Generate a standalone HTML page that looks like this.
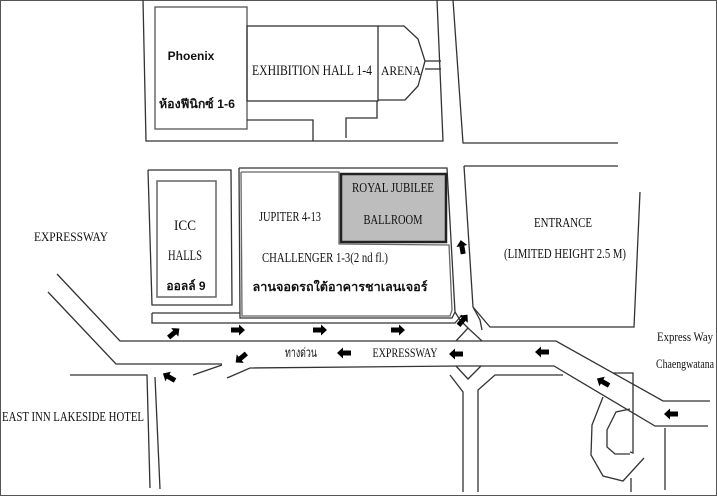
<!DOCTYPE html>
<html><head><meta charset="utf-8"><style>html,body{margin:0;padding:0;background:#fff}svg{display:block}</style></head><body>
<svg width="717" height="496" viewBox="0 0 717 496" xmlns="http://www.w3.org/2000/svg">
<defs>
<g id="ar"><path d="M-7,-2.5 L1,-2.5 L1,-5.5 L7,0 L1,5.5 L1,2.5 L-7,2.5 Z" fill="#000"/></g>
</defs>
<rect x="0.5" y="0.5" width="716" height="495" fill="#fff" stroke="#555"/>
<g fill="none" stroke="#333" stroke-width="1.3">
<polyline points="143,0 146,141 443,141 437,0"/>
<polyline points="453,0 463,143 618,143"/>
<rect x="155" y="7" width="92" height="122" stroke="#555"/>
<rect x="247" y="26" width="131" height="75"/>
<polyline points="378,26 404,26 418,39 425,61 418,86 405,100 378,100"/>
<polyline points="425,61 441,61"/><polyline points="425,69 441,69"/>
<polyline points="247,120 313,120 313,141"/>
<polyline points="346,138 346,118 377,118 377,101"/>
<polyline points="464,166 618,166"/>
<polyline points="640,192 634,327 490,327 473,307 464,166"/>
<polyline points="148,170 231,170 232,305 152,305 148,170"/>
<rect x="157" y="181" width="59" height="116" stroke="#666" stroke-width="1.5"/>
<polyline points="239,168 447,168 455,312 452,318 240,318 239,168"/>
<polyline points="241,172 339,172 339,244 449,245 452,310 450,316 242,316 241,172" stroke="#666"/>
<rect x="341" y="174" width="105" height="68" fill="#bdbdbd" stroke="#222" stroke-width="2.5"/>
<polyline points="152,313 240,313"/><polyline points="152,313 152,323 455,323 462,315"/>
<polyline points="57,274 120,341 556,341 663,401 710,401"/>
<polyline points="48,292 116,364 222,364"/>
<polyline points="193,375 222,365"/>
<polyline points="227,378 250,368 460,366 554,366 655,426 708,426"/>
<polyline points="70,375 147,375 150,488"/>
<polyline points="155,377 160,489"/>
<polyline points="456,341 468,328 482,341"/>
<polyline points="456,366 468,379 481,366"/>
<polyline points="450,375 463,392 463,492"/>
<polyline points="478,492 478,390 495,375 563,375"/>
<polyline points="455,312 460,320 468,328"/>
<polyline points="473,307 480,320 482,330"/>
<polyline points="613,373 633,373 633,395"/>
<polyline points="633,395 633,453 630,452"/>
<polyline points="603,397 592,425 591,455 603,476 623,481 644,458"/>
<polyline points="630,409 616,412 607,430 607,447 615,454 630,454"/>
<polyline points="631,478 631,492"/>
<polyline points="665,428 665,490"/>
</g>
<use href="#ar" transform="translate(174,333) rotate(-40)"/>
<use href="#ar" transform="translate(238,330)"/>
<use href="#ar" transform="translate(320,330)"/>
<use href="#ar" transform="translate(398,330)"/>
<use href="#ar" transform="translate(463,320) rotate(-50)"/>
<use href="#ar" transform="translate(462,247) rotate(-100)"/>
<use href="#ar" transform="translate(241,358) rotate(140)"/>
<use href="#ar" transform="translate(344,353) rotate(180)"/>
<use href="#ar" transform="translate(456,354) rotate(180)"/>
<use href="#ar" transform="translate(542,352) rotate(180)"/>
<use href="#ar" transform="translate(603,382) rotate(210)"/>
<use href="#ar" transform="translate(671,414) rotate(180)"/>
<use href="#ar" transform="translate(169,377) rotate(210)"/>
<g font-family="Liberation Sans, sans-serif" font-weight="bold" font-size="12" fill="#111" text-anchor="middle">
<text x="191" y="60">Phoenix</text>
<text x="197" y="108" font-family="Liberation Sans, Noto Sans CJK SC, DejaVu Sans, sans-serif" textLength="76" lengthAdjust="spacingAndGlyphs">ห้องฟีนิกซ์ 1-6</text>
<text x="186" y="290" font-family="Liberation Sans, DejaVu Sans, sans-serif">ออลล์ 9</text>
<text x="340" y="291" font-family="Liberation Sans, DejaVu Sans, sans-serif" textLength="175" lengthAdjust="spacingAndGlyphs">ลานจอดรถใต้อาคารชาเลนเจอร์</text>
</g>
<g font-family="Liberation Serif, serif" font-size="15" fill="#111" text-anchor="middle">
<text x="312" y="75" textLength="120" lengthAdjust="spacingAndGlyphs">EXHIBITION HALL 1-4</text>
<text x="401" y="75" font-size="13" textLength="40" lengthAdjust="spacingAndGlyphs">ARENA</text>
<text x="185" y="230" textLength="22" lengthAdjust="spacingAndGlyphs">ICC</text>
<text x="185" y="260" textLength="34" lengthAdjust="spacingAndGlyphs">HALLS</text>
<text x="290" y="221" font-size="14" textLength="62" lengthAdjust="spacingAndGlyphs">JUPITER 4-13</text>
<text x="393" y="192" font-size="14" textLength="82" lengthAdjust="spacingAndGlyphs">ROYAL JUBILEE</text>
<text x="393" y="224" font-size="14" textLength="59" lengthAdjust="spacingAndGlyphs">BALLROOM</text>
<text x="325" y="262" font-size="14" textLength="126" lengthAdjust="spacingAndGlyphs">CHALLENGER 1-3(2 nd fl.)</text>
<text x="563" y="227" font-size="14" textLength="58" lengthAdjust="spacingAndGlyphs">ENTRANCE</text>
<text x="565" y="258" font-size="14" textLength="122" lengthAdjust="spacingAndGlyphs">(LIMITED HEIGHT 2.5 M)</text>
<text x="71" y="241" font-size="13" textLength="74" lengthAdjust="spacingAndGlyphs">EXPRESSWAY</text>
<text x="301" y="357" font-size="13" textLength="32" lengthAdjust="spacingAndGlyphs" font-family="Liberation Serif, DejaVu Serif, serif">ทางด่วน</text>
<text x="405" y="357" font-size="13" textLength="65" lengthAdjust="spacingAndGlyphs">EXPRESSWAY</text>
<text x="685" y="341" font-size="13" textLength="56" lengthAdjust="spacingAndGlyphs">Express Way</text>
<text x="685" y="368" font-size="13" textLength="58" lengthAdjust="spacingAndGlyphs">Chaengwatana</text>
<text x="73" y="421" font-size="14" textLength="142" lengthAdjust="spacingAndGlyphs">EAST INN LAKESIDE HOTEL</text>
</g>
</svg>
</body></html>
